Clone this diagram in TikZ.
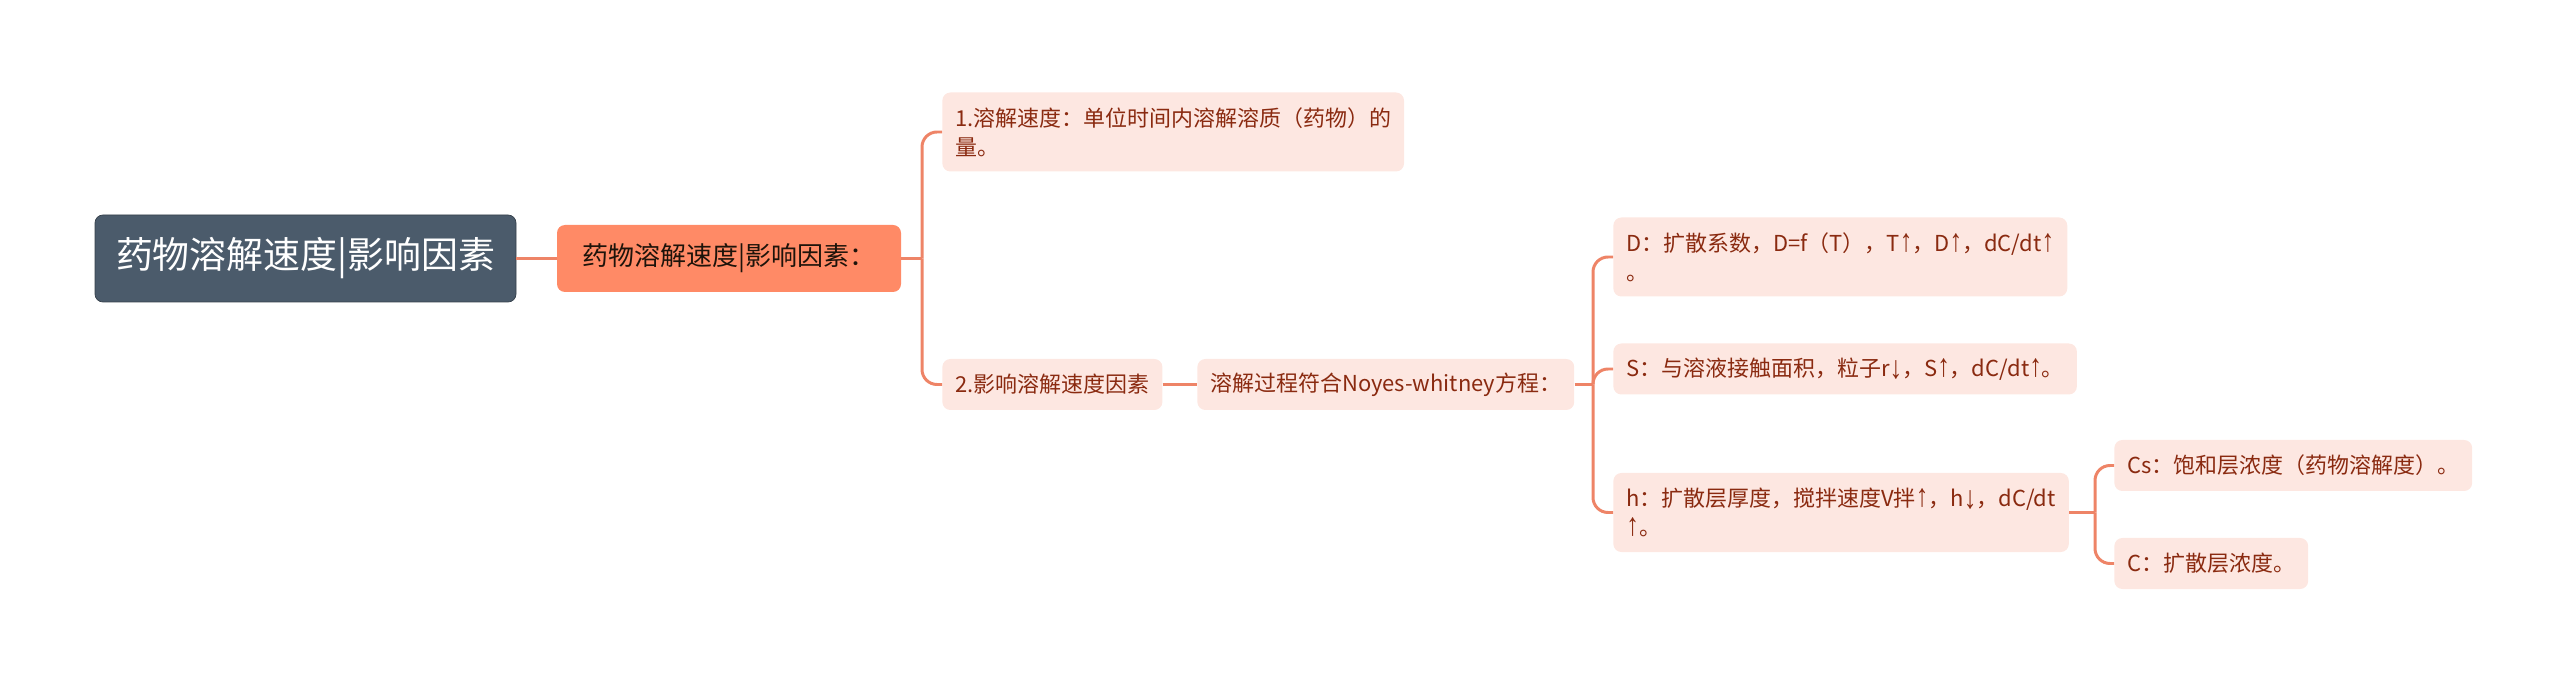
\documentclass[tikz,border=0pt]{standalone}
\usepackage{fontspec}
\setmainfont{Noto Sans CJK SC}
\newfontfamily\arrowfont{Liberation Sans}
\newcommand\upar{{\arrowfont\scalebox{1.15}[1.45]{↑}}}
\newcommand\dnar{{\arrowfont\raisebox{-0.1em}{\scalebox{1.15}[1.45]{↓}}}}
\definecolor{rootfill}{HTML}{4B5B6B}
\definecolor{mainfill}{HTML}{FF8A66}
\definecolor{leaffill}{HTML}{FDE7E1}
\definecolor{leaftext}{HTML}{8A2A10}
\definecolor{linkcol}{HTML}{EE8467}

\begin{document}
\begin{tikzpicture}[
  link/.style  = {draw=linkcol, line width=1.7pt},
  elbow/.style = {link, rounded corners=0.3cm},
  rootbox/.style = {fill=rootfill, text=white, rounded corners=0.16cm,
                    draw=rootfill!70!black, line width=0.4pt,
                    font=\fontsize{21}{25}\selectfont,
                    minimum width=8.42cm, minimum height=1.74cm},
  mainbox/.style = {fill=mainfill, text=black!85!brown, rounded corners=0.16cm,
                    font=\fontsize{14.8}{18}\selectfont,
                    minimum width=6.88cm, minimum height=1.34cm},
  leaf/.style  = {fill=leaffill, text=leaftext, rounded corners=0.16cm,
                  font=\fontsize{12.5}{16.5}\selectfont, align=left,
                  anchor=west, inner xsep=0.26cm, minimum height=1.02cm},
  tall/.style  = {minimum height=1.58cm},
]
\useasboundingbox (0,0) rectangle (51.2,13.62);

%% root and first branch
\node[rootbox] (root) at (6.11,8.45) {药物溶解速度|影响因素};
\node[mainbox] (main) at (14.58,8.45) {药物溶解速度|影响因素：};

%% second level
\node[leaf, tall] (def)  at (18.84,10.98) {1.溶解速度：单位时间内溶解溶质（药物）的\\量。};
\node[leaf]       (fac)  at (18.84,5.93)  {2.影响溶解速度因素};
\node[leaf]       (nw)   at (23.94,5.93)  {溶解过程符合Noyes-whitney方程：};

%% equation terms
\node[leaf, tall] (dd) at (32.26,8.48) {D：扩散系数，D=f（T），T\upar，D\upar，dC/dt\upar\\。};
\node[leaf]       (ss) at (32.26,6.24) {S：与溶液接触面积，粒子r\dnar，S\upar，dC/dt\upar。};
\node[leaf, tall] (hh) at (32.26,3.37) {h：扩散层厚度，搅拌速度V拌\upar，h\dnar，dC/dt\\\upar。};

%% concentrations
\node[leaf] (cs) at (42.28,4.31) {Cs：饱和层浓度（药物溶解度）。};
\node[leaf] (cc) at (42.28,2.35) {C：扩散层浓度。};

%% bus points
\coordinate (b1) at (18.44,8.45);
\coordinate (b2) at (31.86,5.93);
\coordinate (b3) at (41.90,3.37);

%% connectors
\draw[link] (root.east) -- (main.west);
\draw[link] (main.east) -- (b1);
\draw[elbow] (b1) |- (def.west);
\draw[elbow] (b1) |- (fac.west);
\draw[link] (fac.east) -- (nw.west);
\draw[link] (nw.east) -- (b2);
\draw[elbow] (b2) |- (dd.west);
\draw[elbow] (b2) |- (ss.west);
\draw[elbow] (b2) |- (hh.west);
\draw[link] (hh.east) -- (b3);
\draw[elbow] (b3) |- (cs.west);
\draw[elbow] (b3) |- (cc.west);

\end{tikzpicture}
\end{document}
